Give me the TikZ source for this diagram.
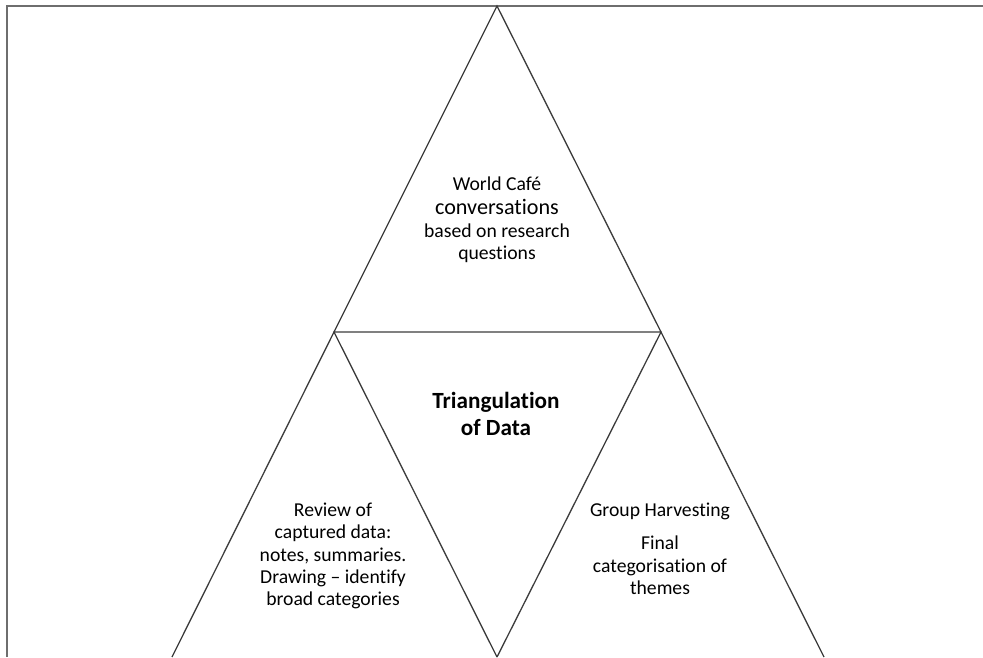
\documentclass[tikz,border=0pt]{standalone}
\usepackage{fontspec}
\setmainfont{Carlito}[Ligatures={NoCommon}]
\usepackage{xcolor}
\usetikzlibrary{calc,positioning}
\definecolor{framegray}{RGB}{110,110,110}
\definecolor{linegray}{RGB}{60,60,60}
\tikzset{
  edge line/.style={line width=0.026cm, draw=linegray},
  frame line/.style={line width=0.04cm, draw=framegray},
  stage text/.style={align=center, font=\fontsize{11.2}{12.7}\selectfont, inner sep=0pt},
}
\begin{document}
\begin{tikzpicture}[x=0.02cm,y=-0.02cm]
                        \useasboundingbox (0,0) rectangle (983,657);
                        \clip (0,0) rectangle (983,657);

                        % Corner points of the triangles
                        \coordinate (apex) at (497.0,6.0);
                        \coordinate (midL) at (334.0,332.0);
                        \coordinate (midR) at (661.0,332.0);
                        \coordinate (botL) at (172.0,657.0);
                        \coordinate (botM) at (497.0,657.0);
                        \coordinate (botR) at (824.0,657.0);

                        % Drawing frame
                        \draw [frame line] (7.0,657.0) -- (7.0,6.0) -- (983.0,6.0);%

                        % Drawing top triangle
                        \draw [edge line] (midL) -- (apex) -- (midR) -- cycle;%

                        % Drawing left triangle
                        \draw [edge line] (botL) -- (midL) -- (botM);%

                        % Drawing right triangle
                        \draw [edge line] (botM) -- (midR) -- (botR);%

                        % Marking text of top triangle
                        \node [stage text] (cafe) at (497.0,220.0)
                          {World Café\\[1pt]
                           {\fontsize{12.6}{13}\selectfont conversations}\\
                           based on research\\
                           questions};%

                        % Marking text of middle triangle
                        \node [stage text, font=\fontsize{13.2}{15}\selectfont\bfseries] (triang) at (496.0,414.0)
                          {Triangulation\\of Data};%

                        % Marking text of left triangle
                        \node [stage text] (review) at (333.0,556.0)
                          {Review of\\captured data:\\notes, summaries.\\Drawing -- identify\\broad categories};%

                        % Marking text of right triangle
                        \node [stage text] (harvest) at (660.0,549.0)
                          {Group Harvesting\\[6pt]Final\\categorisation of\\themes};%
\end{tikzpicture}
\end{document}
